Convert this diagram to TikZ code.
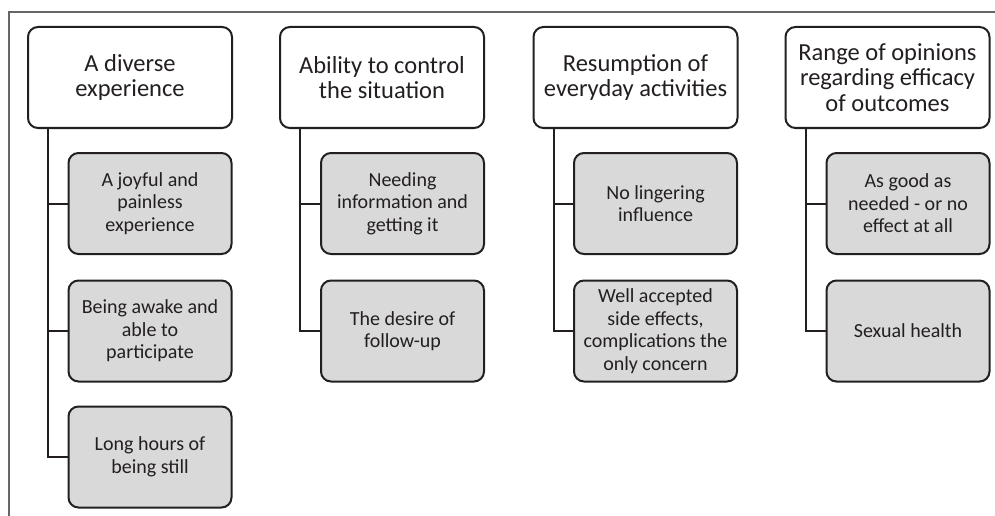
\documentclass[tikz,border=0pt]{standalone}
\usepackage{fontspec}
\setmainfont{Carlito}
\definecolor{boxgray}{RGB}{217,217,217}
\definecolor{inkdark}{RGB}{35,31,32}
\tikzset{
  themebox/.style={draw=inkdark, line width=2pt, rounded corners=10pt, fill=white,
    minimum width=204pt, minimum height=101pt, align=center, inner sep=2pt,
    text=inkdark, font=\fontsize{24.5}{25.5}\selectfont},
  subbox/.style={draw=inkdark, line width=2pt, rounded corners=10pt, fill=boxgray,
    minimum width=163pt, minimum height=101pt, align=center, inner sep=2pt,
    text=inkdark, font=\fontsize{20}{22.6}\selectfont},
  link/.style={draw=inkdark, line width=2pt}
}
\begin{document}
\begin{tikzpicture}[x=1pt, y=-1pt]
  \useasboundingbox (0,0) rectangle (995,516);
  % frame, only top and left edges in view
  \draw[black!60, line width=1.3pt] (9,516) -- (9,12) -- (995,12);
  % column 1
  \node[themebox] (p1) at (130,77.5) {A diverse\\experience};
  \node[subbox] (c11) at (150,203.5) {A joyful and\\painless\\experience};
  \node[subbox] (c12) at (150,331) {Being awake and\\able to\\participate};
  \node[subbox] (c13) at (150,457) {Long hours of\\being still};
  % column 2
  \node[themebox] (p2) at (382,77.5) {Ability to control\\the situation};
  \node[subbox] (c21) at (402.5,203.5) {Needing\\information and\\getting it};
  \node[subbox] (c22) at (402.5,331) {The desire of\\follow-up};
  % column 3
  \node[themebox] (p3) at (635.5,77.5) {Resumption of\\everyday activities};
  \node[subbox] (c31) at (655.5,203.5) {No lingering\\influence};
  \node[subbox] (c32) at (655.5,331) {Well accepted\\side effects,\\complications the\\only concern};
  % column 4
  \node[themebox] (p4) at (887.5,77.5) {Range of opinions\\regarding efficacy\\of outcomes};
  \node[subbox] (c41) at (908,203.5) {As good as\\needed - or no\\effect at all};
  \node[subbox] (c42) at (908,331) {Sexual health};
  % connectors
  \draw[link] ([xshift=21pt]p1.south west) |- (c11.west);
  \draw[link] ([xshift=21pt]p1.south west) |- (c12.west);
  \draw[link] ([xshift=21pt]p1.south west) |- (c13.west);
  \draw[link] ([xshift=21pt]p2.south west) |- (c21.west);
  \draw[link] ([xshift=21pt]p2.south west) |- (c22.west);
  \draw[link] ([xshift=21pt]p3.south west) |- (c31.west);
  \draw[link] ([xshift=21pt]p3.south west) |- (c32.west);
  \draw[link] ([xshift=21pt]p4.south west) |- (c41.west);
  \draw[link] ([xshift=21pt]p4.south west) |- (c42.west);
\end{tikzpicture}
\end{document}
